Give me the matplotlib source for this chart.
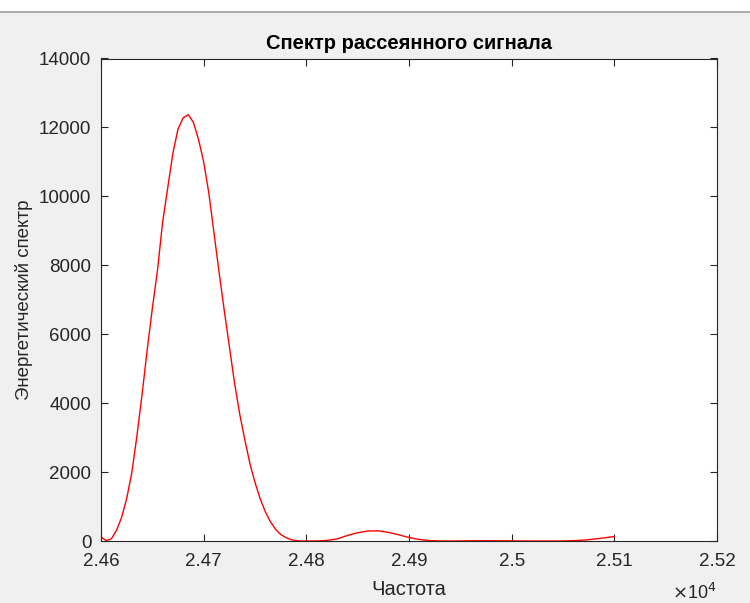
import matplotlib
matplotlib.use("Agg")
import matplotlib.pyplot as plt
from matplotlib.patches import Rectangle
from matplotlib.lines import Line2D

plt.rcParams['font.family'] = ['Liberation Sans', 'DejaVu Sans']

freq = [24600, 24605, 24610, 24615, 24620, 24625, 24630, 24635, 24640, 24645,
        24650, 24655, 24660, 24665, 24670, 24675, 24680, 24685, 24690, 24695,
        24700, 24705, 24710, 24715, 24720, 24725, 24730, 24735, 24740, 24745,
        24750, 24755, 24760, 24765, 24770, 24775, 24780, 24785, 24790, 24795,
        24800, 24810, 24820, 24830, 24840, 24850, 24860, 24870, 24880, 24890,
        24900, 24910, 24920, 24930, 24940, 24950, 24960, 24970, 24980, 24990,
        25000, 25010, 25020, 25030, 25040, 25050, 25060, 25070, 25080, 25090,
        25100]
spectrum = [110, 15, 60, 300, 680, 1230, 1980, 3050, 4250, 5550,
            6750, 7850, 9250, 10250, 11250, 11950, 12280, 12370, 12150, 11650,
            11000, 10100, 8950, 7800, 6700, 5650, 4600, 3700, 2950, 2250,
            1700, 1230, 850, 560, 340, 190, 100, 40, 10, 0,
            0, 2, 15, 60, 160, 240, 290, 295, 250, 180,
            100, 45, 12, 2, 0, 3, 6, 8, 8, 6,
            4, 2, 1, 0, 0, 2, 10, 25, 55, 90,
            130]

xticks = [24600, 24700, 24800, 24900, 25000, 25100, 25200]
xticklabels = ["2.46", "2.47", "2.48", "2.49", "2.5", "2.51", "2.52"]
yticks = [0, 2000, 4000, 6000, 8000, 10000, 12000, 14000]

title = "Спектр рассеянного сигнала"
xlabel = "Частота"
ylabel = "Энергетический спектр"

W, H = 750, 603
fig = plt.figure(figsize=(W / 100, H / 100), dpi=100, facecolor='#f0f0f0')

# white strip at top of window
fig.patches.append(Rectangle((0, 1 - 11 / H), 1, 11 / H, transform=fig.transFigure,
                             facecolor='white', edgecolor='none', zorder=0))
fig.lines.append(Line2D([0, 1], [1 - 11.5 / H, 1 - 11.5 / H], transform=fig.transFigure,
                        color='#a0a0a0', lw=1.2))

ax = fig.add_axes([101 / W, 1 - 541 / H, (717 - 101) / W, (541 - 58.5) / H])
ax.set_facecolor('white')
ax.plot(freq, spectrum, color='#ff0000', lw=1.0)

ax.set_xlim(24600, 25200)
ax.set_ylim(0, 14000)
ax.set_xticks(xticks)
ax.set_xticklabels(xticklabels)
ax.set_yticks(yticks)
ax.set_yticklabels([str(v) for v in yticks])

dark = '#262626'
for s in ax.spines.values():
    s.set_color(dark)
    s.set_linewidth(0.8)
ax.tick_params(direction='in', length=5, width=0.8, color=dark, labelcolor=dark,
               labelsize=13.5, top=True, right=True)
ax.tick_params(axis='x', pad=9)
ax.tick_params(axis='y', pad=7)

ax.set_title(title, fontsize=14.5, fontweight='bold', color='black', pad=7)
ax.set_xlabel(xlabel, fontsize=14.5, color=dark, labelpad=7)
ax.set_ylabel(ylabel, fontsize=13.5, color=dark, labelpad=4)

fig.text(672 / W, 1 - 593 / H, r"$\times$10$^4$", fontsize=13, color=dark,
         ha='left', va='center')

fig.savefig("out.png", dpi=100, facecolor=fig.get_facecolor())
